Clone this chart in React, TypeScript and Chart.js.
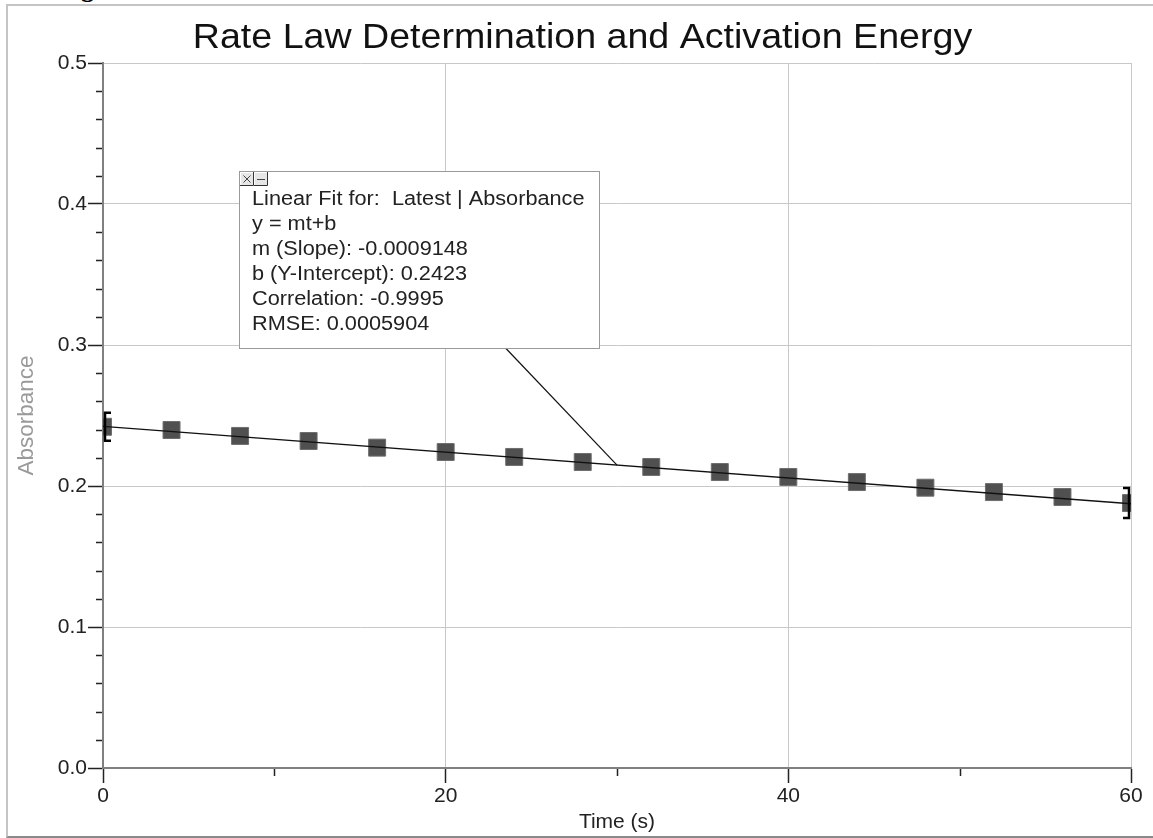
import React, { useEffect, useRef } from "react";
import { Chart, registerables } from "chart.js";

Chart.register(...registerables);

// ---- data ----
const times = [0, 4, 8, 12, 16, 20, 24, 28, 32, 36, 40, 44, 48, 52, 56, 60];
const absorbance = [
  0.2420, 0.2397, 0.2355, 0.2319, 0.2272, 0.2241, 0.2206, 0.2170,
  0.2135, 0.2099, 0.2064, 0.2028, 0.1988, 0.1957, 0.1922, 0.1879,
];
const fitSlope = -0.0009148;
const fitIntercept = 0.2423;
const fitStart = 0;
const fitEnd = 60;
const leaderTime = 30;
const fitLines = [
  "Linear Fit for:  Latest | Absorbance",
  "y = mt+b",
  "m (Slope): -0.0009148",
  "b (Y-Intercept): 0.2423",
  "Correlation: -0.9995",
  "RMSE: 0.0005904",
];
const xMinorTicks = [10, 30, 50];
const yMinorTicks = [
  0.02, 0.04, 0.06, 0.08, 0.12, 0.14, 0.16, 0.18, 0.22, 0.24, 0.26, 0.28,
  0.32, 0.34, 0.36, 0.38, 0.42, 0.44, 0.46, 0.48,
];
const titleText = "Rate Law Determination and Activation Energy";
const xTitle = "Time (s)";
const yTitle = "Absorbance";

const FONT = "'Liberation Sans', Arial, Helvetica, sans-serif";

const overlayPlugin = {
  id: "loggerOverlay",
  afterDatasetsDraw(chart: any) {
    const { ctx, scales } = chart;
    const xs = scales.x;
    const ys = scales.y;
    const area = chart.chartArea;
    ctx.save();

    // title (slightly stretched like the logger-software export)
    ctx.save();
    ctx.fillStyle = "#111";
    ctx.font = `35px ${FONT}`;
    ctx.textAlign = "center";
    ctx.textBaseline = "alphabetic";
    ctx.translate(582.5, 48);
    ctx.scale(1.074, 1);
    ctx.fillText(titleText, 0, 0);
    ctx.restore();

    // minor ticks
    ctx.strokeStyle = "#222";
    ctx.lineWidth = 1.5;
    ctx.beginPath();
    yMinorTicks.forEach((v) => {
      const py = Math.round(ys.getPixelForValue(v)) + 0.5;
      ctx.moveTo(area.left - 7, py);
      ctx.lineTo(area.left - 1, py);
    });
    xMinorTicks.forEach((v) => {
      const px = Math.round(xs.getPixelForValue(v)) + 0.5;
      ctx.moveTo(px, area.bottom + 1);
      ctx.lineTo(px, area.bottom + 8);
    });
    ctx.stroke();

    // selection brackets at first/last points
    const first = absorbance[0];
    const last = absorbance[absorbance.length - 1];
    ctx.strokeStyle = "#000";
    ctx.lineWidth = 2.5;
    const bx0 = xs.getPixelForValue(times[0]) + 2;
    const by0 = ys.getPixelForValue(first);
    ctx.beginPath();
    ctx.moveTo(bx0 + 6, by0 - 14);
    ctx.lineTo(bx0, by0 - 14);
    ctx.lineTo(bx0, by0 + 14);
    ctx.lineTo(bx0 + 6, by0 + 14);
    ctx.stroke();
    const bx1 = xs.getPixelForValue(times[times.length - 1]) - 2;
    const by1 = ys.getPixelForValue(last);
    ctx.beginPath();
    ctx.moveTo(bx1 - 6, by1 - 15);
    ctx.lineTo(bx1, by1 - 15);
    ctx.lineTo(bx1, by1 + 15);
    ctx.lineTo(bx1 - 6, by1 + 15);
    ctx.stroke();

    // annotation box
    const boxL = 239.5;
    const boxT = 171.5;
    const boxW = 360;
    const boxH = 177;
    // leader line
    const lx = xs.getPixelForValue(leaderTime);
    const ly = ys.getPixelForValue(fitIntercept + fitSlope * leaderTime);
    ctx.strokeStyle = "#111";
    ctx.lineWidth = 1.2;
    ctx.beginPath();
    ctx.moveTo(506, boxT + boxH);
    ctx.lineTo(lx, ly);
    ctx.stroke();

    ctx.fillStyle = "#fff";
    ctx.fillRect(boxL, boxT, boxW, boxH);
    ctx.strokeStyle = "#9a9a9a";
    ctx.lineWidth = 1;
    ctx.strokeRect(boxL, boxT, boxW, boxH);

    // close/minimize buttons
    const btn = (x: number) => {
      ctx.fillStyle = "#e6e6e6";
      ctx.fillRect(x, 172, 14, 13);
      ctx.strokeStyle = "#fff";
      ctx.beginPath();
      ctx.moveTo(x + 0.5, 185);
      ctx.lineTo(x + 0.5, 172.5);
      ctx.lineTo(x + 14, 172.5);
      ctx.stroke();
      ctx.strokeStyle = "#333";
      ctx.beginPath();
      ctx.moveTo(x + 13.5, 172);
      ctx.lineTo(x + 13.5, 185.5);
      ctx.lineTo(x, 185.5);
      ctx.stroke();
    };
    btn(240);
    btn(254);
    ctx.strokeStyle = "#444";
    ctx.lineWidth = 1;
    ctx.beginPath();
    ctx.moveTo(243.5, 175.5);
    ctx.lineTo(250.5, 182.5);
    ctx.moveTo(250.5, 175.5);
    ctx.lineTo(243.5, 182.5);
    ctx.moveTo(257, 179.5);
    ctx.lineTo(265, 179.5);
    ctx.stroke();

    ctx.fillStyle = "#222";
    ctx.font = `20px ${FONT}`;
    ctx.textAlign = "left";
    ctx.textBaseline = "alphabetic";
    fitLines.forEach((line, i) => {
      ctx.save();
      ctx.translate(252, 205 + i * 25);
      ctx.scale(1.085, 1);
      ctx.fillText(line, 0, 0);
      ctx.restore();
    });
    ctx.restore();
  },
};

export default function App() {
  const ref = useRef<HTMLCanvasElement | null>(null);
  useEffect(() => {
    if (!ref.current) return;
    const fitData = [
      { x: fitStart, y: fitIntercept + fitSlope * fitStart },
      { x: fitEnd, y: fitIntercept + fitSlope * fitEnd },
    ];
    const chart = new Chart(ref.current, {
      type: "scatter",
      data: {
        datasets: [
          {
            label: "Linear Fit",
            type: "line",
            data: fitData,
            borderColor: "#111",
            borderWidth: 1.4,
            pointRadius: 0,
            showLine: true,
            fill: false,
            order: 0,
            clip: 0,
          } as any,
          {
            label: "Absorbance",
            data: times.map((t, i) => ({ x: t, y: absorbance[i] })),
            pointStyle: "rect",
            pointRadius: 12,
            pointHoverRadius: 12,
            backgroundColor: "#505050",
            borderColor: "#6e6e6e",
            borderWidth: 1,
            showLine: false,
            order: 1,
            clip: 0,
          } as any,
        ],
      },
      options: {
        animation: false,
        responsive: false,
        events: [],
        layout: { padding: { left: 0, right: 22, top: 63, bottom: 0 } },
        plugins: {
          legend: { display: false },
          tooltip: { enabled: false },
          title: { display: false },
        },
        scales: {
          x: {
            type: "linear",
            min: 0,
            max: 60,
            afterFit: (s: any) => {
              s.height = 70;
            },
            ticks: {
              stepSize: 20,
              color: "#222",
              font: { family: FONT, size: 21 },
              padding: 1,
              maxRotation: 0,
            },
            grid: {
              color: "#c8c8c8",
              lineWidth: 1,
              tickColor: "#222",
              tickLength: 15,
              tickWidth: 1.5,
            },
            border: { color: "#808080", width: 2 },
            title: {
              display: true,
              text: xTitle,
              color: "#222",
              font: { family: FONT, size: 21 },
              padding: { top: 0, bottom: 3 },
            },
          },
          y: {
            type: "linear",
            min: 0,
            max: 0.5,
            afterFit: (s: any) => {
              s.width = 103;
            },
            ticks: {
              stepSize: 0.1,
              color: "#222",
              font: { family: FONT, size: 21 },
              padding: 1,
              callback: (v: any) => Number(v).toFixed(1),
            },
            grid: {
              color: "#c8c8c8",
              lineWidth: 1,
              tickColor: "#222",
              tickLength: 15,
              tickWidth: 1.5,
            },
            border: { color: "#808080", width: 2 },
            title: {
              display: true,
              text: yTitle,
              color: "#9a9a9a",
              font: { family: FONT, size: 22.5 },
              padding: { top: 13, bottom: 0 },
            },
          },
        },
      },
      plugins: [overlayPlugin],
    });
    return () => chart.destroy();
  }, []);

  return (
    <div
      style={{
        position: "absolute",
        left: 0,
        top: 0,
        width: 1153,
        height: 838,
        overflow: "hidden",
        background: "#fff",
      }}
    >
      <div
        style={{
          position: "absolute",
          left: 58,
          top: -26,
          font: "bold 26px 'Liberation Serif', 'Times New Roman', serif",
          color: "#000",
          whiteSpace: "nowrap",
        }}
      >
        Fig
      </div>
      <div
        style={{
          position: "absolute",
          left: 6,
          top: 4,
          width: 1170,
          height: 830,
          borderLeft: "2px solid #c4c4c4",
          borderTop: "2px solid #c4c4c4",
          borderBottom: "2px solid #8a8a8a",
        }}
      />
      <canvas
        ref={ref}
        width={1153}
        height={838}
        style={{ position: "absolute", left: 0, top: 0, width: 1153, height: 838 }}
      />
    </div>
  );
}
